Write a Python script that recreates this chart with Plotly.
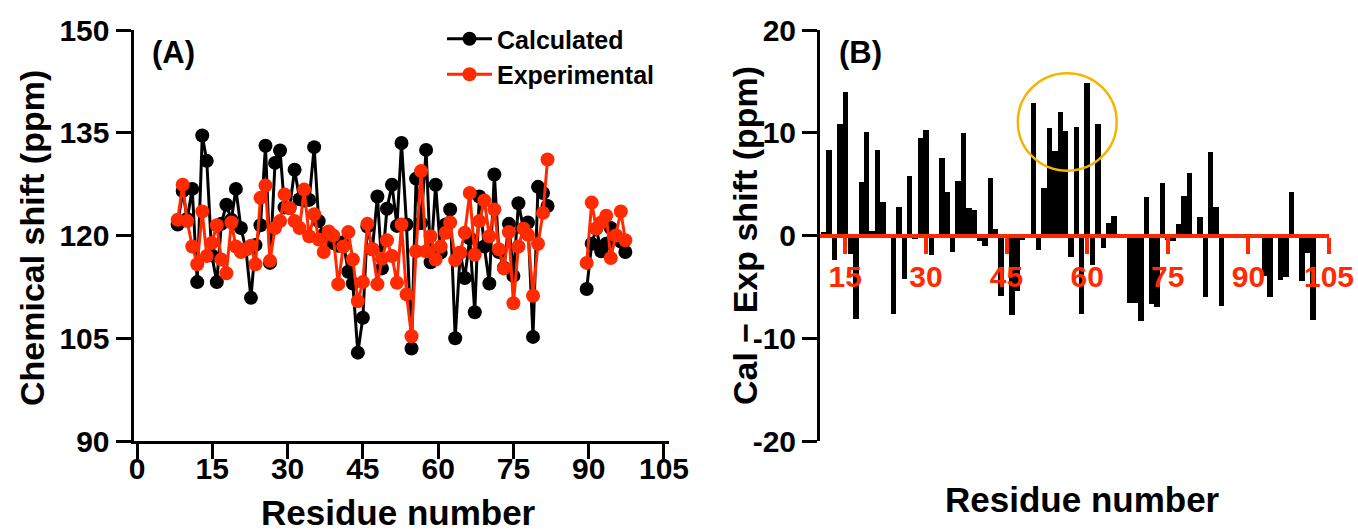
import plotly.graph_objects as go

# ---------------- Panel A data (positions as plotted against the panel A axis) ----------------
residue_a = [8.1, 9.1, 10.0, 11.0, 12.0, 13.0, 13.9, 14.9, 15.9, 16.8, 17.8, 18.8, 19.7, 20.7,
             21.7, 22.7, 23.6, 24.6, 25.6, 26.5, 27.5, 28.5, 29.4, 30.4, 31.4, 32.4, 33.3, 34.3,
             35.3, 36.2, 37.2, 38.2, 39.1, 40.1, 41.1, 42.1, 43.0, 44.0, 45.0, 45.9, 46.9, 47.9,
             48.8, 49.8, 50.8, 51.8, 52.7, 53.7, 54.7, 55.6, 56.6, 57.6, 58.5, 59.5, 60.5, 61.5,
             62.4, 63.4, 64.4, 65.3, 66.3, 67.3, 68.2, 69.2, 70.2, 71.2, 72.1, 73.1, 74.1, 75.0,
             76.0, 77.0, 77.9, 78.9, 79.9, 80.9, 81.8,
             85.0,
             89.6, 90.6, 91.5, 92.5, 93.5, 94.4, 95.4, 96.4, 97.3]

calculated = [121.6, 126.5, 122.4, 126.8, 113.2, 134.6, 130.9, 117.1, 113.2, 121.7, 124.5, 122.3,
              126.8, 121.1, 118.0, 110.9, 118.6, 121.5, 133.1, 116.0, 130.6, 132.4, 124.1, 124.0,
              129.6, 125.3, 125.1, 125.2, 132.9, 122.1, 120.1, 120.0, 118.9, 118.5, 119.0, 114.7,
              113.0, 102.9, 108.0, 121.3, 118.0, 125.7, 115.2, 123.9, 127.4, 121.4, 133.5, 121.6,
              103.5, 128.3, 121.8, 132.5, 116.1, 127.4, 117.5, 121.6, 123.8, 105.0, 117.5, 113.8,
              119.6, 108.8, 125.7, 118.4, 113.0, 128.9, 117.6, 115.3, 121.7, 114.1, 124.7, 121.0,
              121.9, 105.2, 127.1, 126.2, 124.3,
              None,
              112.2, 118.8, 121.0, 117.7, 118.8, 121.1, 120.0, 119.1, 117.6]

experimental = [122.3, 127.4, 122.1, 118.4, 115.8, 123.5, 117.0, 118.9, 121.5, 116.5, 114.5, 121.9,
                118.4, 117.6, 118.0, 118.5, 115.8, 125.5, 127.3, 116.3, 121.1, 122.1, 126.0, 124.0,
                122.1, 121.1, 126.7, 119.9, 123.1, 119.4, 117.6, 120.6, 120.0, 112.9, 118.4, 120.5,
                116.5, 110.4, 113.2, 121.7, 118.0, 112.9, 116.6, 119.3, 117.0, 113.1, 121.6, 111.4,
                105.3, 117.7, 129.4, 117.7, 119.9, 116.5, 118.4, 120.4, 121.9, 116.4, 117.5, 120.4,
                126.2, 117.2, 122.1, 125.1, 119.9, 123.8, 118.0, 115.2, 120.5, 110.1, 118.4, 121.0,
                120.1, 111.2, 118.8, 123.3, 131.1,
                None,
                116.0, 124.8, 121.0, 121.9, 122.9, 116.7, 120.0, 123.5, 119.3]

a_xticks = [0, 15, 30, 45, 60, 75, 90, 105]
a_yticks = [90, 105, 120, 135, 150]

# ---------------- Panel B data ----------------
residue_b = list(range(11, 86)) + list(range(93, 103))
diff_b = [0.3, 8.3, -2.4, 10.9, 14.0, -1.8, -8.1, 5.2, 10.1, 0.4, 8.3, 3.3, 0.0, -7.6, 2.8,
          -4.2, 5.8, -0.3, 9.5, 10.3, -1.9, 0.0, 7.5, 4.2, -1.6, 5.3, 10.0, 2.7, 2.5, -0.5,
          -1.0, 5.6, 0.6, -5.9, 0.0, -7.7, -5.4, -0.4, 0.0, 12.9, -1.4, 4.6, 10.5, 8.2, 12.0,
          10.2, -2.1, 10.6, -7.6, 14.8, -2.9, 10.9, -1.2, 1.2, 1.85, 0.0, 0.0, -6.6, -6.6, -8.3,
          3.7, -6.7, -7.0, 5.1, -0.4, -0.5, 1.1, 3.8, 6.1, 0.0, 1.8, -6.0, 8.1, 2.8, -6.9,
          -3.9, -6.0, 0.0, -4.3, -4.0, 4.2, 0.0, -4.4, -1.7, -8.2]

b_xticks = [15, 30, 45, 60, 75, 90, 105]
b_yticks = [-20, -10, 0, 10, 20]
b_yticktext = ["-20", "-10", "0", "10", "20"]

W, H = 1358, 531
FONT = "Liberation Sans, Arial, sans-serif"
RED = "#ff2a00"


def px(x):
    return x / W


def py(y):
    return 1 - y / H


fig = go.Figure()
fig.add_trace(go.Scatter(x=residue_a, y=calculated, mode="lines+markers", name="Calculated",
                         line=dict(color="black", width=3), marker=dict(color="black", size=14),
                         connectgaps=False, xaxis="x", yaxis="y"))
fig.add_trace(go.Scatter(x=residue_a, y=experimental, mode="lines+markers", name="Experimental",
                         line=dict(color=RED, width=3), marker=dict(color=RED, size=14),
                         connectgaps=False, xaxis="x", yaxis="y"))
fig.add_trace(go.Bar(x=residue_b, y=diff_b, width=1, marker=dict(color="black", line=dict(width=0)),
                     showlegend=False, xaxis="x2", yaxis="y2"))

tickfont = dict(family=FONT, size=30, color="black", weight="bold")
axis_common = dict(showgrid=False, zeroline=False, showline=True, linewidth=3, linecolor="black",
                   ticks="outside", ticklen=15, tickwidth=3, tickcolor="black", tickfont=tickfont)

fig.update_layout(
    width=W, height=H, autosize=False,
    margin=dict(l=0, r=0, t=0, b=0, pad=0, autoexpand=False),
    paper_bgcolor="white", plot_bgcolor="white",
    bargap=0,
    xaxis=dict(domain=[px(133.5), px(669)], range=[-0.7, 106], tickvals=a_xticks, anchor="y",
               ticklabelstandoff=-16, **axis_common),
    yaxis=dict(domain=[py(441), py(30)], range=[90, 150], tickvals=a_yticks, anchor="x",
               **axis_common),
    xaxis2=dict(domain=[px(820), px(1329)], range=[10.3, 105], tickvals=b_xticks, anchor="free",
                position=py(235.5), showgrid=False, zeroline=False, showline=True, linewidth=4,
                linecolor=RED, ticks="outside", ticklen=16, tickwidth=4, tickcolor=RED,
                tickfont=dict(family=FONT, size=30, color=RED, weight="bold"),
                ticklabelstandoff=-3),
    yaxis2=dict(domain=[py(441), py(30)], range=[-20, 20], tickvals=b_yticks,
                ticktext=b_yticktext, anchor="x2", **axis_common),
    legend=dict(x=px(442), y=py(16), xanchor="left", yanchor="top", bgcolor="rgba(0,0,0,0)",
                font=dict(family=FONT, size=25, color="black", weight="bold"),
                itemwidth=45, tracegroupgap=0),
    showlegend=True,
)

annots = [
    dict(text="Chemical shift (ppm)", x=px(32), y=py(238), textangle=-90, size=34),
    dict(text="Residue number", x=px(398), y=py(512), textangle=0, size=35),
    dict(text="Cal \u2212 Exp shift (ppm)", x=px(745), y=py(236), textangle=-90, size=34),
    dict(text="Residue number", x=px(1082), y=py(500), textangle=0, size=35),
    dict(text="(A)", x=px(173), y=py(52), textangle=0, size=31),
    dict(text="(B)", x=px(860), y=py(52), textangle=0, size=31),
]
for a in annots:
    fig.add_annotation(text=a["text"], x=a["x"], y=a["y"], xref="paper", yref="paper",
                       xanchor="center", yanchor="middle", showarrow=False, textangle=a["textangle"],
                       font=dict(family=FONT, size=a["size"], color="black", weight="bold"))

fig.add_shape(type="circle", xref="x2", yref="y2", x0=47.1, x1=65.5, y0=6.3, y1=15.8,
              line=dict(color="#f5b400", width=2.5), layer="above")

fig.write_html("out.html", config={"displayModeBar": False},
               post_script="document.body.style.margin='0px';document.body.style.overflow='hidden';")
